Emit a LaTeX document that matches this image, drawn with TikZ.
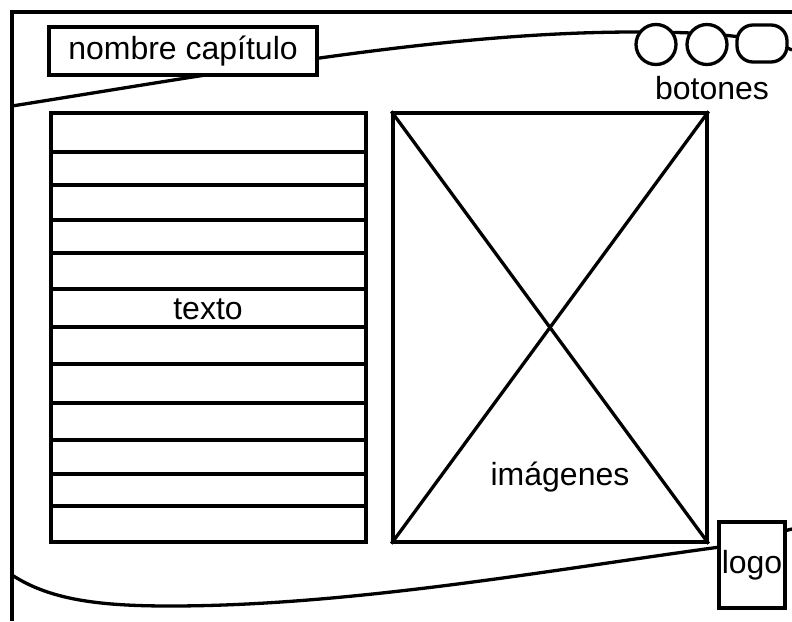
\documentclass[tikz,border=0pt]{standalone}
\usepackage{fontspec}
\setmainfont{Liberation Sans}
\begin{document}
\begin{tikzpicture}[x=1pt,y=-1pt,line width=3.3pt,
  lbl/.style={font=\fontsize{32}{38}\selectfont,inner sep=0pt},
  box/.style={draw,fill=white,inner sep=0pt,font=\fontsize{32}{38}\selectfont},
  btn/.style={draw,fill=white,circle,minimum size=40pt,inner sep=0pt},
  rbtn/.style={draw,fill=white,rounded corners=16pt,minimum width=50pt,minimum height=37pt,inner sep=0pt}]
\useasboundingbox (0,0) rectangle (792,621);
% frame
\coordinate (tl) at (12,12);
\coordinate (tr) at (792,12);
\coordinate (bl) at (12,621);
\draw (tr) -- (tl) -- (bl);
% top curve
\coordinate (c1) at (12,106);
\coordinate (c2) at (636,32);
\coordinate (c3) at (792,50);
\draw (c1) .. controls (250,68) and (450,32) .. (c2) .. controls (700,32) and (760,35) .. (c3);
% bottom curve
\coordinate (d1) at (12,575);
\coordinate (d2) at (170,606);
\coordinate (d3) at (720,547);
\coordinate (d4) at (792,529);
\draw (d1) .. controls (50,600) and (100,606) .. (d2) .. controls (350,606) and (550,570) .. (d3) -- (d4);
% title
\node[box,minimum width=268pt,minimum height=48pt] (titulo) at (183,51) {nombre capítulo};
% buttons
\node[btn] (b1) at (656,44.5) {};
\node[btn] (b2) at (707,44.5) {};
\node[rbtn] (b3) at (762,43.5) {};
\node[lbl] (botones) at (712,88) {botones};
% text block
\node[draw,fill=white,minimum width=315pt,minimum height=429pt,inner sep=0pt] (texto) at (208.5,327.5) {};
\foreach \yy in {152,185,220,253,289,327,364,403,440,474,506}
  \draw (texto.west |- 0,\yy) -- (texto.east |- 0,\yy);
\node[lbl] (textolbl) at (208,309) {texto};
% image block
\node[draw,fill=white,minimum width=314pt,minimum height=429pt,inner sep=0pt] (img) at (550,327.5) {};
\draw (img.north west) -- (img.south east);
\draw (img.north east) -- (img.south west);
\node[lbl,fill=white] (imglbl) at (560,477) {imágenes};
% logo
\node[box,minimum width=66pt,minimum height=86pt] (logo) at (752,565) {logo};
\end{tikzpicture}
\end{document}
